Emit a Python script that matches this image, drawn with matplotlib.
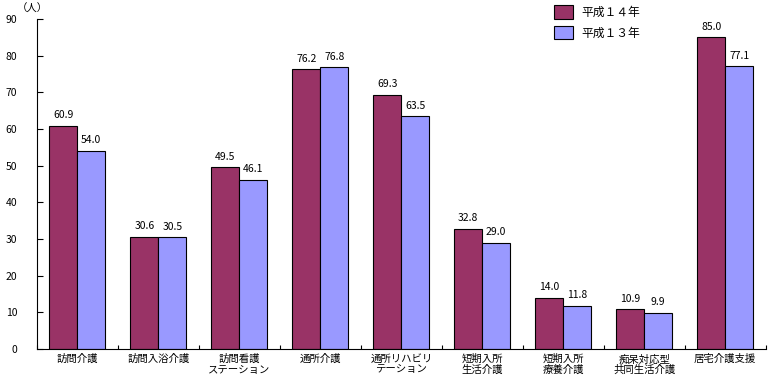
import numpy as np
import matplotlib.pyplot as plt

plt.rcParams['font.family'] = ['Noto Sans CJK JP', 'DejaVu Sans']

categories = ['訪問介護', '訪問入浴介護', '訪問看護\nステーション', '通所介護',
              '通所リハビリ\nテーション', '短期入所\n生活介護', '短期入所\n療養介護',
              '痴呆対応型\n共同生活介護', '居宅介護支援']
h14 = [60.9, 30.6, 49.5, 76.2, 69.3, 32.8, 14.0, 10.9, 85.0]
h13 = [54.0, 30.5, 46.1, 76.8, 63.5, 29.0, 11.8, 9.9, 77.1]
yticks = [0, 10, 20, 30, 40, 50, 60, 70, 80, 90]

fig = plt.figure(figsize=(7.68, 3.77), dpi=100)
ax = fig.add_axes([0.048, 0.074, 0.949, 0.876])

x = np.arange(len(categories))
w = 0.345
b1 = ax.bar(x - w / 2, h14, w, color='#993366', edgecolor='black', linewidth=0.8, label='平成１４年')
b2 = ax.bar(x + w / 2, h13, w, color='#9999FF', edgecolor='black', linewidth=0.8, label='平成１３年')

for bars, vals in ((b1, h14), (b2, h13)):
    for r, v in zip(bars, vals):
        ax.text(r.get_x() + r.get_width() / 2, v + 1.5, f'{v:.1f}',
                ha='center', va='bottom', fontsize=7.5)

ax.set_xlim(-0.5, len(categories) - 0.5)
ax.set_ylim(0, 90)
ax.set_yticks(yticks)
ax.set_yticklabels([str(t) for t in yticks], fontsize=7.5)
ax.tick_params(axis='y', direction='in', length=4, pad=14)
ax.set_xticks(np.arange(len(categories) + 1) - 0.5)
ax.set_xticklabels([])
ax.set_xticks(x, minor=True)
ax.set_xticklabels(categories, minor=True, fontsize=7.5, linespacing=1.05)
ax.tick_params(axis='x', which='major', direction='in', length=3)
ax.tick_params(axis='x', which='minor', length=0, pad=3.5)
ax.spines['top'].set_visible(False)
ax.spines['right'].set_visible(False)

fig.text(0.022, 0.978, '（人）', fontsize=7.5, ha='left', va='center')

ax.legend(loc='upper left', bbox_to_anchor=(0.722, 0.987), bbox_transform=fig.transFigure,
          frameon=False, borderpad=0, borderaxespad=0,
          fontsize=8.5, handlelength=1.6, handleheight=1.4, handletextpad=0.7,
          labelspacing=0.6)

fig.savefig('out.png', dpi=100)
